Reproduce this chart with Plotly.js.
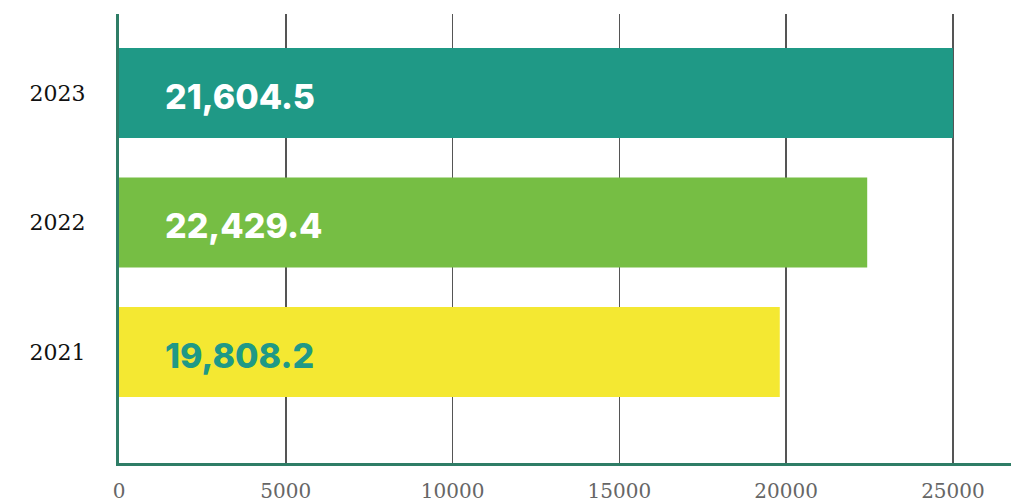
<!DOCTYPE html>
<html>
<head>
<meta charset="utf-8">
<script src="https://cdn.plot.ly/plotly-3.0.1.min.js"></script>
<style>html,body{margin:0;padding:0;background:#fff;}#chart{width:1011px;height:503px;}</style>
</head>
<body>
<div id="chart"></div>
<script>
const years = ['2021', '2022', '2023'];
const barValues = [19808.2, 22429.4, 25000];
const labelTexts = ['19,808.2', '22,429.4', '21,604.5'];
const barColors = ['#f4e832', '#76be44', '#1f9986'];
const labelColors = ['#1f9986', '#ffffff', '#ffffff'];
const xTicks = [0, 5000, 10000, 15000, 20000, 25000];

const trace = {
  type: 'bar',
  orientation: 'h',
  y: years,
  x: barValues,
  marker: {color: barColors, line: {width: 0}},
  width: 0.695,
  hoverinfo: 'none'
};

const annotations = years.map((y, i) => ({
  x: 0, y: i, xref: 'x', yref: 'y',
  text: labelTexts[i],
  showarrow: false,
  xanchor: 'left', yanchor: 'middle',
  xshift: 44, yshift: -3,
  font: {family: 'Inter, Lato, sans-serif', size: 34, weight: 800, color: labelColors[i]}
}));

const layout = {
  width: 1011, height: 503,
  margin: {l: 119, r: 0, t: 14, b: 40},
  paper_bgcolor: '#fff', plot_bgcolor: '#fff',
  showlegend: false,
  xaxis: {
    range: [0, 26740],
    tickvals: xTicks,
    ticktext: xTicks.map(String),
    showgrid: true, gridcolor: '#555', gridwidth: 1.5,
    zeroline: false,
    showline: true, linecolor: '#2e7d66', linewidth: 3,
    ticks: '', ticklabelstandoff: 8,
    tickfont: {family: 'DejaVu Serif, Liberation Serif, serif', size: 20, color: '#666'}
  },
  yaxis: {
    type: 'category',
    range: [-0.857, 2.61],
    showgrid: false, zeroline: false,
    showline: true, linecolor: '#2e7d66', linewidth: 3,
    ticks: '', ticklabelstandoff: 26,
    tickfont: {family: 'DejaVu Serif, Liberation Serif, serif', size: 22, color: '#111'}
  },
  annotations: annotations
};

Plotly.newPlot('chart', [trace], layout, {displayModeBar: false, staticPlot: true});
</script>
</body>
</html>
